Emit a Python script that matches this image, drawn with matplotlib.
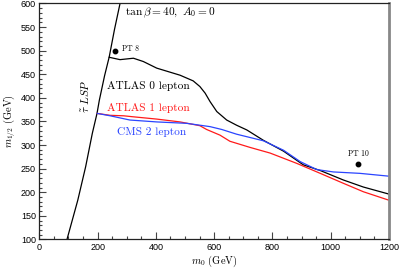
import numpy as np
import matplotlib as mpl
mpl.use('Agg')
from matplotlib import pyplot as plt
from matplotlib.ticker import MultipleLocator

plt.rcParams['mathtext.fontset'] = 'cm'

# stau LSP boundary
lspX = [95, 132, 159, 182, 198, 206, 224, 240, 258, 277]
lspY = [100, 183, 254, 325, 367, 395, 447, 487, 545, 600]

# ATLAS 0 lepton
atlas0X = [240, 277, 323, 357, 403, 483, 528, 551, 569, 586, 609, 643, 677, 712, 769, 838, 906, 964, 1043, 1112, 1200]
atlas0Y = [486, 481, 484, 477, 463, 448, 436, 424, 410, 392, 371, 353, 342, 332, 310, 287, 258, 246, 226, 211, 196]

# ATLAS 1 lepton
atlas1X = [199, 243, 289, 320, 403, 483, 551, 574, 620, 654, 723, 792, 884, 964, 1043, 1112, 1200]
atlas1Y = [367, 363, 362, 360, 355, 349, 341, 333, 321, 308, 295, 283, 261, 240, 219, 201, 183]

# CMS 2 lepton
cms2X = [199, 243, 311, 403, 506, 586, 626, 677, 769, 838, 895, 952, 1009, 1100, 1200]
cms2Y = [367, 362, 353, 349, 346, 339, 333, 323, 309, 289, 265, 248, 243, 240, 234]

# benchmark points
ptNames = ['PT 8', 'PT 10']
ptX = [260, 1095]
ptY = [500, 259]

fig = plt.figure(figsize=(3.99, 2.69), dpi=100)
ax = fig.add_axes([0.0985, 0.11, 0.8765, 0.877])

ax.plot(lspX, lspY, color='k', lw=0.9)
ax.plot(atlas0X, atlas0Y, color='k', lw=0.9)
ax.plot(atlas1X, atlas1Y, color='#ff1a1a', lw=0.9)
ax.plot(cms2X, cms2Y, color='#2b45ff', lw=0.9)
ax.plot(ptX, ptY, 'o', color='k', ms=3.2)

ax.text(284, 503, ptNames[0], fontsize=5.5, family='cmr10', va='center', ha='left')
ax.text(1094, 281, ptNames[1], fontsize=5.5, family='cmr10', va='center', ha='center')

ax.text(294, 580, r'$\tan\beta = 40,\ A_0 = 0$', fontsize=8.2, va='center', ha='left')
ax.text(231, 425, 'ATLAS 0 lepton', fontsize=8.2, family='cmr10', va='center', ha='left', color='k')
ax.text(231, 378, 'ATLAS 1 lepton', fontsize=8.2, family='cmr10', va='center', ha='left', color='#ff1a1a')
ax.text(268, 327, 'CMS 2 lepton', fontsize=8.2, family='cmr10', va='center', ha='left', color='#2b45ff')
ax.text(157, 404, r'$\tilde{\tau}\ LSP$', fontsize=8.2, rotation=90, va='center', ha='center')

ax.set_xlim(0, 1200)
ax.set_ylim(100, 600)
ax.xaxis.set_major_locator(MultipleLocator(200))
ax.xaxis.set_minor_locator(MultipleLocator(50))
ax.yaxis.set_major_locator(MultipleLocator(50))
ax.yaxis.set_minor_locator(MultipleLocator(10))
ax.tick_params(which='both', direction='in', top=False, right=False, labelsize=6.5, width=0.8, color='#444444')
ax.tick_params(which='major', length=5, pad=2.5)
ax.tick_params(which='minor', length=2.5)
for lab in ax.get_xticklabels() + ax.get_yticklabels():
    lab.set_family('Liberation Sans')

for s in ['left', 'bottom', 'top']:
    ax.spines[s].set_linewidth(0.9)
    ax.spines[s].set_color('#222222')
ax.spines['right'].set_linewidth(2)
ax.spines['right'].set_color('#888888')

ax.set_xlabel(r'$m_0$ (GeV)', family='cmr10', fontsize=7.5, labelpad=1.5)
ax.set_ylabel(r'$m_{1/2}$ (GeV)', family='cmr10', fontsize=7.5, labelpad=2)

fig.savefig('out.png', dpi=100)
